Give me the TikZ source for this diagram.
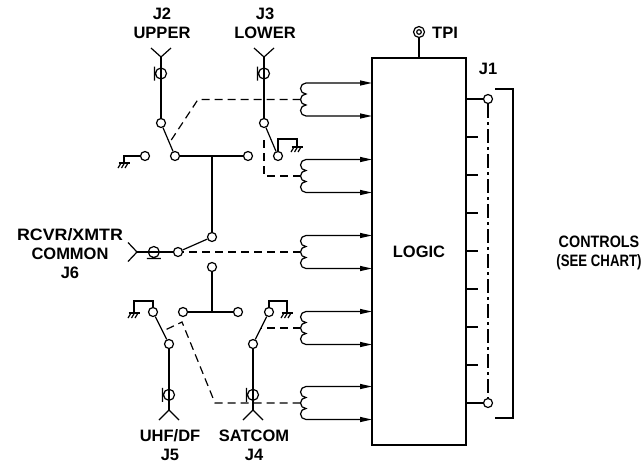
\documentclass[tikz,border=0pt]{standalone}
\usepackage{fontspec}
\setmainfont{Liberation Sans}
\usepackage{graphicx}
\usetikzlibrary{arrows.meta,calc}

\begin{document}
\begin{tikzpicture}[x=1pt,y=-1pt,
  wire/.style={line width=1.2pt},
  link/.style={line width=1.2pt,dash pattern=on 8pt off 5pt},
  contact/.style={circle,draw,fill=white,line width=1.2pt,inner sep=0pt,minimum size=9pt},
  lbl/.style={font=\fontsize{16.5}{19}\selectfont\bfseries,align=center,inner sep=0pt},
  coilarrow/.style={{Triangle[length=12pt,width=5pt]}-{Triangle[length=12pt,width=5pt]}},
  gnd/.pic={\draw[wire] (-5.5,0) -- (5.5,0);
    \foreach \dx in {-3,0.5,4} \draw[wire] (\dx,0) -- (\dx-3,5);},
  coax/.pic={\draw[wire] (0,0) circle[radius=5.5] (-6.5,-7) -- (-6.5,7);},
  coaxh/.pic={\draw[wire] (0,0) circle[radius=5.5] (-7,6.5) -- (7,6.5);},
  antup/.pic={\draw[wire] (-10,-9) -- (0,0) -- (10,-9);},
  antdown/.pic={\draw[wire] (-10,10) -- (0,0) -- (10,10);},
  antleft/.pic={\draw[wire] (-9,-9.5) -- (0,0) -- (-9,9.5);}
]

\useasboundingbox (0,0) rectangle (642,464);

\node[draw,wire,minimum width=94pt,minimum height=387pt,lbl] (logic) at (419,251.5) {LOGIC};

\node[circle,draw,wire,inner sep=0pt,minimum size=11pt] (tpi) at (419,32) {};
\draw[wire] (tpi.center) circle[radius=2.3];
\draw[wire] (tpi) -- (tpi |- logic.north);
\node[lbl,anchor=west] (tpilbl) at (432,32.5) {TPI};
\node[lbl] (j1lbl) at (488,69) {J1};

\node[contact] (j2com) at (161,123) {};
\node[contact] (j2gnd) at (145,156) {};
\node[contact] (j2out) at (175,156) {};
\node[contact] (j3com) at (264,123) {};
\node[contact] (j3a) at (248,156) {};
\node[contact] (j3gnd) at (278,156) {};
\node[contact] (j6com) at (178,252) {};
\node[contact] (j6a) at (212,237) {};
\node[contact] (j6b) at (212,267) {};
\node[contact] (j5com) at (169,344) {};
\node[contact] (j5gnd) at (153,312) {};
\node[contact] (j5a) at (183,312) {};
\node[contact] (j4com) at (253,344) {};
\node[contact] (j4a) at (238,312) {};
\node[contact] (j4gnd) at (269,312) {};
\node[contact] (j1top) at (488,99) {};
\node[contact] (j1bot) at (488,403) {};

\coordinate (j2ant) at (161,57);
\coordinate (j3ant) at (264,57);
\coordinate (j6ant) at (137,252);
\coordinate (j5ant) at (169,410);
\coordinate (j4ant) at (253,410);

\node[lbl] (j2lbl) at (162,23) {J2\\UPPER};
\node[lbl] (j3lbl) at (265,23) {J3\\LOWER};
\node[lbl] (j6lbl) at (70,253.5) {\scalebox{1.08}[1]{RCVR/XMTR}\\COMMON\\J6};
\node[lbl] (j5lbl) at (170,445) {UHF/DF\\J5};
\node[lbl] (j4lbl) at (254,445) {SATCOM\\J4};
\node[lbl] (ctrl) at (599,253) {\scalebox{0.87}[1]{CONTROLS}\\\scalebox{0.8}[1]{(SEE CHART)}};

\foreach \y [count=\i] in {99.5,176,252,328,403}{
  \coordinate (coil\i) at (300.5,\y);
  \draw[wire,coilarrow] (372,\y-16.5) -- (306,\y-16.5)
    arc[start angle=270,end angle=90,radius=5.5]
    arc[start angle=270,end angle=90,radius=5.5]
    arc[start angle=270,end angle=90,radius=5.5] -- (372,\y+16.5);
}

\draw[wire] (logic.east |- j1top) -- (j1top);
\draw[wire] (logic.east |- j1bot) -- (j1bot);
\foreach \y in {137,175,213,251,289,327,365} \draw[wire] (466,\y) -- (478,\y);
\draw[wire,dash pattern=on 14pt off 4pt on 3pt off 4pt] (j1top) -- (j1bot);
\draw[wire] (495,89) -- (513,89) -- (513,418) -- (495,418);

\draw[wire] (j2ant) -- (j2com);
\pic at (j2ant) {antup};
\pic at ($(j2ant)!0.25!(j2com)$) {coax};
\draw[wire] (j2com) -- (j2out);
\draw[wire] (j2gnd) -| (124,163);
\pic at (124,163) {gnd};
\draw[wire] (j2out) -- (j3a);
\draw[wire] (j6a) -- (j6a |- j3a);

\draw[wire] (j3ant) -- (j3com);
\pic at (j3ant) {antup};
\pic at ($(j3ant)!0.25!(j3com)$) {coax};
\draw[wire] (j3com) -- (j3gnd);
\draw[wire] (j3gnd) |- (297,139) -- (297,147);
\pic at (297,147) {gnd};

\draw[wire] (j6ant) -- (j6com);
\pic at (j6ant) {antleft};
\pic at ($(j6ant)!0.41!(j6com)$) {coaxh};
\draw[wire] (j6com) -- (j6a);
\draw[wire] (j6b) -- (j6b |- j5a);
\draw[wire] (j5a) -- (j4a);

\draw[wire] (j5com) -- (j5gnd);
\draw[wire] (j5gnd) |- (134,301) -- (134,313);
\pic at (134,313) {gnd};
\draw[wire] (j5com) -- (j5ant);
\pic at (j5ant) {antdown};
\pic at ($(j5ant)!0.23!(j5com)$) {coax};

\draw[wire] (j4com) -- (j4gnd);
\draw[wire] (j4gnd) |- (287,301) -- (287,313);
\pic at (287,313) {gnd};
\draw[wire] (j4com) -- (j4ant);
\pic at (j4ant) {antdown};
\pic at ($(j4ant)!0.23!(j4com)$) {coax};

\draw[link] (coil1) -- (198,99.5) -- ($(j2com)!0.6!(j2out)$);
\draw[link] (coil2) -| (264,139);
\draw[link] (coil3) -- (j6com);
\draw[link] (coil4) -- ($(j4com)!0.5!(j4gnd)$);
\draw[link] (coil5) -- (215,403) -- (182,322) -- ($(j5com)!0.4!(j5gnd)$);

\end{tikzpicture}
\end{document}
